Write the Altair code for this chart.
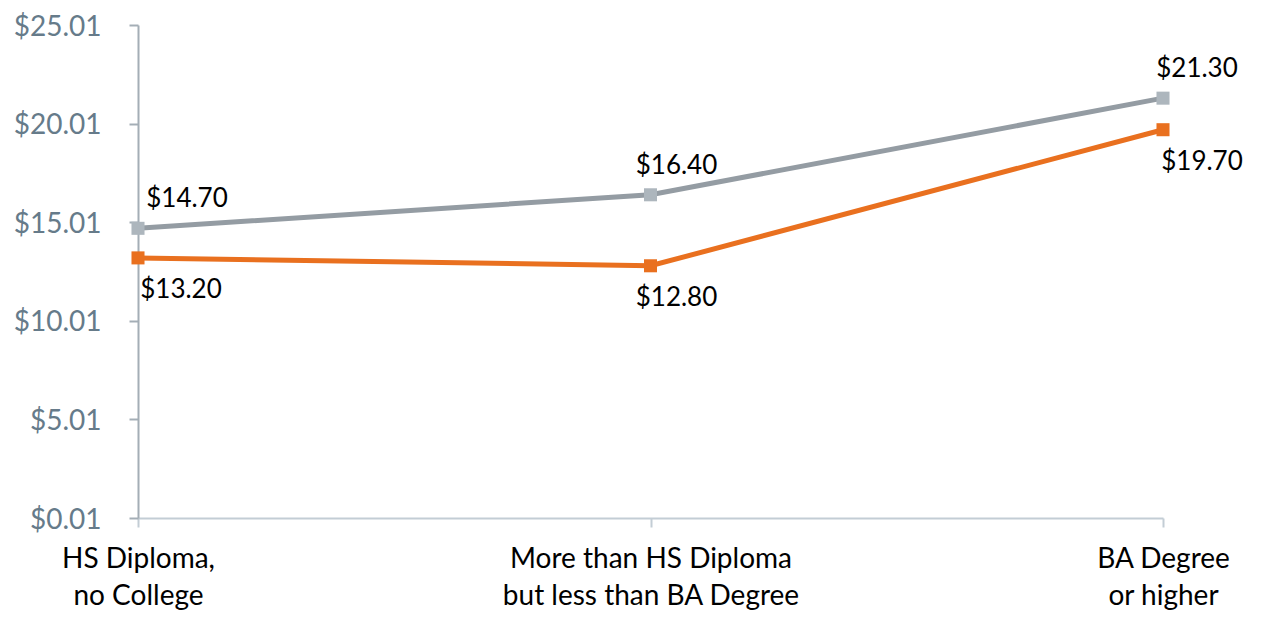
import altair as alt
import pandas as pd

categories = ["HS Diploma,\nno College", "More than HS Diploma\nbut less than BA Degree", "BA Degree\nor higher"]
series_a = [14.70, 16.40, 21.30]   # gray
series_b = [13.20, 12.80, 19.70]   # orange
y_ticks = [0.01, 5.01, 10.01, 15.01, 20.01, 25.01]

# label nudges (pixels), styling only
label_dx_a = [49, 26, 34]
label_dx_b = [43, 26, 39]
label_dy_a = -29
label_dy_b = 32

rows = []
for i, c in enumerate(categories):
    rows.append({"cat": c, "series": "A", "value": series_a[i], "dx": label_dx_a[i], "dy": label_dy_a, "order": i})
    rows.append({"cat": c, "series": "B", "value": series_b[i], "dx": label_dx_b[i], "dy": label_dy_b, "order": i})
df = pd.DataFrame(rows)

FONT = "Lato"
x = alt.X("cat:N", sort=categories, title=None,
          scale=alt.Scale(type="point", padding=0),
          axis=alt.Axis(labelExpr="split(datum.label, '\\n')", labelAngle=0,
                        labelFont=FONT, labelFontSize=28, labelColor="#000000",
                        labelLineHeight=37, labelPadding=18, labelLimit=500,
                        domainColor="#C3CDD5", domainWidth=2, tickColor="#C3CDD5",
                        tickWidth=2, tickSize=9, grid=False))
y = alt.Y("value:Q", title=None,
          scale=alt.Scale(domain=[0.01, 25.01], nice=False, zero=False),
          axis=alt.Axis(values=y_ticks, format="$.2f", labelFont=FONT, labelFontSize=28,
                        labelColor="#667B8A", labelPadding=28, labelOffset=2,
                        domainColor="#A4AEB6",
                        domainWidth=2, tickColor="#A4AEB6", tickWidth=2, tickSize=9,
                        grid=False))

color_line = alt.Color("series:N", scale=alt.Scale(domain=["A", "B"], range=["#949CA3", "#E9701F"]), legend=None)
color_pt = alt.Color("series:N", scale=alt.Scale(domain=["A", "B"], range=["#ADB6BD", "#E9701F"]), legend=None)

base = alt.Chart(df)
lines = base.mark_line(strokeWidth=5).encode(x=x, y=y, color=color_line, order="order:Q")
points = base.mark_point(shape="square", filled=True, size=170, opacity=1).encode(x=x, y=y, color=color_pt)
labels = base.mark_text(font=FONT, fontSize=26, color="#000000",
                        dx={"expr": "datum.dx"}, dy={"expr": "datum.dy"}).encode(
    x=x, y=y,
    text=alt.Text("value:Q", format="$.2f"),
)

chart = alt.layer(lines, points, labels).resolve_scale(color="independent").properties(
    width=1025, height=493,
    padding={"left": 130, "top": 17, "right": 97, "bottom": 93},
    autosize=alt.AutoSizeParams(type="none"),
).configure_view(stroke=None)

chart.save("out.html", embed_options={"renderer": "svg", "actions": False})
